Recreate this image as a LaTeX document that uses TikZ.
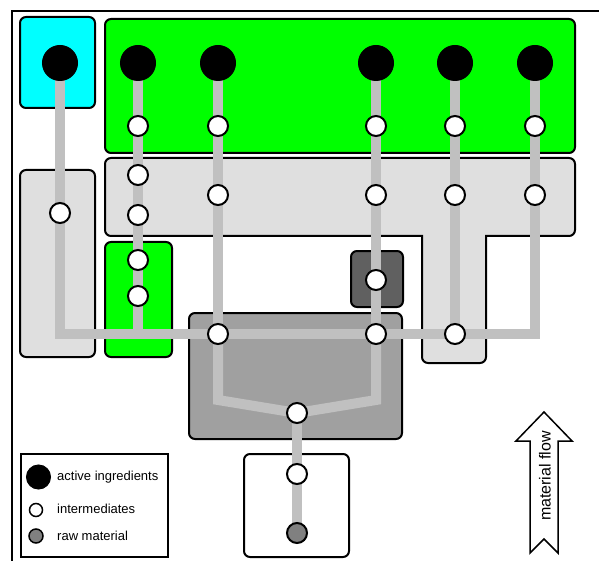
\documentclass[tikz,border=0pt]{standalone}
\usepackage{fontspec}
\setmainfont{Liberation Sans}
\definecolor{areacyan}{HTML}{00FFFF}
\definecolor{areagreen}{HTML}{00FF00}
\definecolor{arealight}{HTML}{DFDFDF}
\definecolor{areamid}{HTML}{A0A0A0}
\definecolor{areadark}{HTML}{606060}
\definecolor{pipegray}{HTML}{C0C0C0}
\definecolor{rawgray}{HTML}{808080}
\pgfdeclarelayer{boxes}
\pgfdeclarelayer{pipes}
\pgfsetlayers{boxes,pipes,main}
\begin{document}
\begin{tikzpicture}[x=1pt,y=-1pt,
  area/.style={draw=black,line width=2pt,rounded corners=6pt},
  pipe/.style={draw=pipegray,line width=10pt,line join=miter},
  active/.style={circle,fill=black,draw=black,line width=1pt,minimum size=35pt,inner sep=0pt},
  inter/.style={circle,fill=white,draw=black,line width=2pt,minimum size=20pt,inner sep=0pt},
  raw/.style={circle,fill=rawgray,draw=black,line width=2pt,minimum size=20pt,inner sep=0pt},
  legtext/.style={anchor=west,inner sep=0pt,font=\fontsize{13}{15}\selectfont},
]
\useasboundingbox (0,0) rectangle (599,561);

% frame
\draw[line width=2pt] (12,561) -- (12,11) -- (599,11);

% process areas
\begin{pgfonlayer}{boxes}
  \draw[area,fill=areacyan]  (20,17) rectangle (95,108);
  \draw[area,fill=areagreen] (105,19) rectangle (575,153);
  \draw[area,fill=arealight] (340,158) -- (575,158) -- (575,236)
     [sharp corners] -- (486,236) [rounded corners=6pt] -- (486,363) -- (422,363)
     [sharp corners] -- (422,236) [rounded corners=6pt] -- (105,236) -- (105,158) -- cycle;
  \draw[area,fill=arealight] (20,170) rectangle (95,357);
  \draw[area,fill=areagreen] (105,242) rectangle (172,357);
  \draw[area,fill=areadark]  (351,251) rectangle (403,307);
  \draw[area,fill=areamid]   (189,313) rectangle (402,439);
  \draw[area,fill=white]     (244,454) rectangle (349,557);
\end{pgfonlayer}

% active ingredients
\node[active] (a0) at (60,63) {};
\node[active] (a1) at (138,63) {};
\node[active] (a2) at (218,63) {};
\node[active] (a3) at (376,63) {};
\node[active] (a4) at (455,63) {};
\node[active] (a5) at (535,63) {};

% intermediates
\node[inter] (g1) at (138,126) {};
\node[inter] (g2) at (218,126) {};
\node[inter] (g3) at (376,126) {};
\node[inter] (g4) at (455,126) {};
\node[inter] (g5) at (535,126) {};
\node[inter] (b1a) at (138,175) {};
\node[inter] (b1b) at (138,215) {};
\node[inter] (b2) at (218,195) {};
\node[inter] (b3) at (376,195) {};
\node[inter] (b4) at (455,195) {};
\node[inter] (b5) at (535,195) {};
\node[inter] (l0) at (60,213) {};
\node[inter] (s1a) at (138,260) {};
\node[inter] (s1b) at (138,296) {};
\node[inter] (d3) at (376,280) {};
\node[inter] (m2) at (218,334) {};
\node[inter] (m3) at (376,334) {};
\node[inter] (m4) at (455,334) {};
\node[inter] (j) at (297,413) {};
\node[inter] (w) at (297,474) {};
\node[raw] (r) at (297,533) {};

% pipe bends
\coordinate (cL) at (60,334);
\coordinate (cR) at (535,334);
\coordinate (c1) at (138,334);
\coordinate (vL) at (218,400);
\coordinate (vR) at (376,400);

\begin{pgfonlayer}{pipes}
  \draw[pipe] (a0.center) -- (cL) -- (cR) -- (a5.center);
  \draw[pipe] (a1.center) -- (c1);
  \draw[pipe] (a2.center) -- (m2.center);
  \draw[pipe] (a3.center) -- (m3.center);
  \draw[pipe] (a4.center) -- (m4.center);
  \draw[pipe] (m2.center) -- (vL) -- (j.center) -- (vR) -- (m3.center);
  \draw[pipe] (j.center) -- (r.center);
\end{pgfonlayer}

% legend
\node[draw=black,line width=1.2pt,minimum width=147pt,minimum height=103pt,inner sep=0pt]
  (legend) at (94.5,505.5) {};
\node[circle,fill=black,draw=black,line width=1pt,minimum size=24pt,inner sep=0pt] (ka) at (38.5,477) {};
\node[circle,fill=white,draw=black,line width=1.5pt,minimum size=13pt,inner sep=0pt] (ki) at (36,510) {};
\node[circle,fill=rawgray,draw=black,line width=1.5pt,minimum size=14pt,inner sep=0pt] (kr) at (36,536) {};
\node[legtext] (ta) at (57,477) {active ingredients};
\node[legtext] (ti) at (57,509) {intermediates};
\node[legtext] (tr) at (57,536) {raw material};

% material flow arrow
\draw[line width=1.5pt,fill=white,line join=miter]
  (544,412) -- (572,441) -- (558,441) -- (558,553) -- (544,539) -- (530,553)
  -- (530,441) -- (516,441) -- cycle;
\node[rotate=90,inner sep=0pt,font=\fontsize{16}{18}\selectfont] (flow) at (545,476) {material flow};
\end{tikzpicture}
\end{document}
